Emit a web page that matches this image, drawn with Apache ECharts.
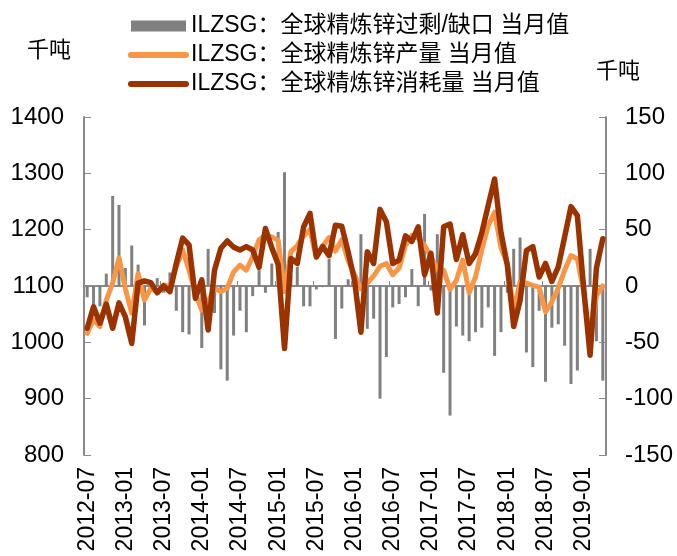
<!DOCTYPE html>
<html>
<head>
<meta charset="utf-8">
<script src="https://cdn.jsdelivr.net/npm/echarts@6/dist/echarts.min.js"></script>
<style>
html,body{margin:0;padding:0;background:#fff;}
#c{width:677px;height:556px;}
</style>
</head>
<body>
<div id="c"></div>
<script>
var months = ["2012-07","2012-08","2012-09","2012-10","2012-11","2012-12",
"2013-01","2013-02","2013-03","2013-04","2013-05","2013-06","2013-07","2013-08","2013-09","2013-10","2013-11","2013-12",
"2014-01","2014-02","2014-03","2014-04","2014-05","2014-06","2014-07","2014-08","2014-09","2014-10","2014-11","2014-12",
"2015-01","2015-02","2015-03","2015-04","2015-05","2015-06","2015-07","2015-08","2015-09","2015-10","2015-11","2015-12",
"2016-01","2016-02","2016-03","2016-04","2016-05","2016-06","2016-07","2016-08","2016-09","2016-10","2016-11","2016-12",
"2017-01","2017-02","2017-03","2017-04","2017-05","2017-06","2017-07","2017-08","2017-09","2017-10","2017-11","2017-12",
"2018-01","2018-02","2018-03","2018-04","2018-05","2018-06","2018-07","2018-08","2018-09","2018-10","2018-11","2018-12",
"2019-01","2019-02","2019-03","2019-04"];

// 全球精炼锌过剩/缺口（千吨，右轴）
var surplus = [-10,-19,-18,11,80,72,
16,36,19,-35,-4,7,-6,12,-22,-41,-43,-8,
-55,33,-24,-74,-84,-44,-22,-41,-9,14,-6,20,
48,101,10,17,-18,-18,-3,-1,24,-47,-20,6,
2,46,-38,-29,-100,-63,-19,-16,-10,15,-18,64,
-4,46,-77,-115,-36,-44,-49,-41,-37,-19,-62,-41,
-6,33,43,-59,-72,-22,-85,-37,-34,-53,-87,-75,
-5,33,-49,-84];

// 全球精炼锌产量（千吨，左轴）
var production = [1016,1040,1028,1075,1105,1150,
1095,1052,1122,1075,1096,1090,1102,1099,1134,1164,1128,1087,
1057,1072,1096,1090,1096,1125,1137,1128,1152,1182,1190,1187,
1181,1090,1161,1172,1189,1200,1150,1171,1186,1162,1182,1145,
1120,1095,1105,1118,1135,1140,1120,1132,1172,1190,1185,1172,
1152,1130,1128,1094,1110,1146,1088,1116,1165,1207,1231,1168,
1140,1056,1107,1105,1101,1098,1054,1072,1096,1128,1154,1148,
1090,1005,1083,1100];

// 全球精炼锌消耗量（千吨，左轴）
var consumption = [1025,1063,1034,1068,1025,1070,
1045,998,1105,1109,1106,1088,1100,1090,1140,1185,1173,1078,
1111,1022,1128,1167,1180,1169,1164,1170,1164,1133,1202,1168,
1138,989,1149,1140,1205,1229,1152,1170,1154,1208,1206,1160,
1110,1018,1161,1140,1236,1214,1140,1146,1189,1179,1205,1120,
1158,1052,1205,1210,1147,1191,1140,1157,1195,1243,1290,1195,
1137,1028,1074,1163,1170,1116,1140,1108,1134,1187,1241,1225,
1095,977,1132,1184];

var leftTicks = {min: 800, max: 1400, interval: 100};
var rightTicks = {min: -150, max: 150, interval: 50};

var names = ["ILZSG：全球精炼锌过剩/缺口 当月值","ILZSG：全球精炼锌产量 当月值","ILZSG：全球精炼锌消耗量 当月值"];

var FONT = "'Liberation Sans', Arial, 'Noto Sans CJK SC', sans-serif";
var axisGray = "#898989";
var ORANGE = '#F79646', BROWN = '#9A3300';

var chart = echarts.init(document.getElementById('c'));
chart.setOption({
  animation: false,
  textStyle: {fontFamily: FONT},
  grid: {left: 84, right: 71, top: 117, bottom: 101, containLabel: false},
  legend: {
    orient: 'vertical',
    left: 123, top: 8,
    itemWidth: 55, itemHeight: 11, itemGap: 3,
    textStyle: {fontSize: 23, lineHeight: 26, color: '#000', fontFamily: FONT},
    data: [
      {name: names[0], icon: 'rect'},
      {name: names[1], itemStyle: {opacity: 0}, lineStyle: {width: 6, cap: 'round', color: ORANGE}},
      {name: names[2], itemStyle: {opacity: 0}, lineStyle: {width: 6, cap: 'round', color: BROWN}}
    ]
  },
  graphic: [
    {type: 'text', left: 27, top: 40, style: {text: '千吨', fontSize: 22, fill: '#000', fontFamily: FONT}},
    {type: 'text', left: 596, top: 61, style: {text: '千吨', fontSize: 22, fill: '#000', fontFamily: FONT}}
  ],
  xAxis: {
    type: 'category',
    data: months,
    boundaryGap: true,
    axisLine: {lineStyle: {color: axisGray, width: 2}},
    axisTick: {show: true, inside: true, interval: 5, length: 5, lineStyle: {color: axisGray, width: 1}},
    axisLabel: {interval: 5, rotate: 90, fontSize: 23, color: '#000', margin: 12, fontFamily: FONT},
    splitLine: {show: false}
  },
  yAxis: [
    {
      type: 'value', min: leftTicks.min, max: leftTicks.max, interval: leftTicks.interval,
      axisLine: {show: true, lineStyle: {color: axisGray, width: 2}},
      axisTick: {show: true, inside: true, length: 7, lineStyle: {color: axisGray, width: 1}},
      axisLabel: {fontSize: 24, color: '#000', margin: 20, fontFamily: FONT, formatter: function (v) { return String(v); }},
      splitLine: {show: false}
    },
    {
      type: 'value', min: rightTicks.min, max: rightTicks.max, interval: rightTicks.interval,
      position: 'right',
      axisLine: {show: true, lineStyle: {color: axisGray, width: 2}},
      axisTick: {show: true, inside: true, length: 7, lineStyle: {color: axisGray, width: 1}},
      axisLabel: {fontSize: 24, color: '#000', margin: 19, fontFamily: FONT, formatter: function (v) { return String(v); }},
      splitLine: {show: false}
    }
  ],
  series: [
    {
      name: names[0], type: 'bar', yAxisIndex: 1, data: surplus,
      barWidth: 3, itemStyle: {color: '#808080'}, z: 1
    },
    {
      name: names[1], type: 'line', yAxisIndex: 0, data: production,
      symbol: 'none', lineStyle: {color: ORANGE, width: 5, cap: 'round', join: 'round'},
      itemStyle: {color: ORANGE}, z: 2
    },
    {
      name: names[2], type: 'line', yAxisIndex: 0, data: consumption,
      symbol: 'none', lineStyle: {color: BROWN, width: 5.5, cap: 'round', join: 'round'},
      itemStyle: {color: BROWN}, z: 3
    }
  ]
});
</script>
</body>
</html>
